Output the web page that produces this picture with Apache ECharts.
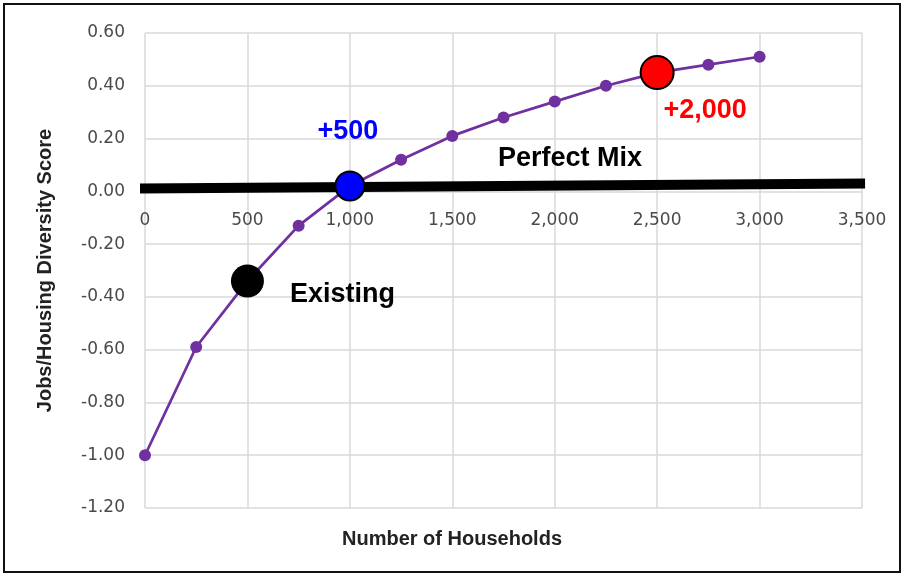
<!DOCTYPE html>
<html><head><meta charset="utf-8">
<script src="https://cdn.jsdelivr.net/npm/echarts@6/dist/echarts.min.js"></script>
<style>html,body{margin:0;padding:0;background:#fff}#c{width:904px;height:575px}</style>
</head><body><div id="c"></div>
<script>
// Data
const households = [0, 250, 500, 750, 1000, 1250, 1500, 1750, 2000, 2250, 2500, 2750, 3000];
const diversityScore = [-1.00, -0.59, -0.34, -0.13, 0.02, 0.12, 0.21, 0.28, 0.34, 0.40, 0.45, 0.48, 0.51];
const perfectMixLine = [[-40, 0.011], [3515, 0.030]];
const perfectMixLabelAt = [2075, 0.126];
const existingPoint = [500, -0.34];
const plus500Point = [1000, 0.02];
const plus2000Point = [2500, 0.45];
const xTicks = { min: 0, max: 3500, interval: 500 };
const yTicks = { min: -1.2, max: 0.6, interval: 0.2 };

const gridTop = 33, gridBottom = 67, chartH = 575;
const plotH = chartH - gridTop - gridBottom;
// move the x axis (with its labels) up to the y = 0 line
const xAxisOffset = -plotH * (0 - yTicks.min) / (yTicks.max - yTicks.min);

const chart = echarts.init(document.getElementById('c'));
const tickFont = { fontFamily: 'DejaVu Sans', fontSize: 17, color: '#4a4a4a' };
const annFont = { fontFamily: 'Liberation Sans', fontWeight: 'bold', fontSize: 27 };
const titleFont = { fontFamily: 'Liberation Sans', fontWeight: 'bold', fontSize: 20, color: '#222' };
chart.setOption({
  animation: false,
  backgroundColor: '#fff',
  title: {
    text: 'Number of Households', left: 'center', top: 524,
    textStyle: titleFont
  },
  grid: { left: 145, right: 42, top: gridTop, bottom: gridBottom },
  xAxis: {
    type: 'value', min: xTicks.min, max: xTicks.max, interval: xTicks.interval,
    position: 'bottom', offset: xAxisOffset,
    axisLine: { show: false, onZero: false },
    axisTick: { show: false },
    axisLabel: Object.assign({ margin: 21, formatter: v => v.toLocaleString('en-US') }, tickFont),
    splitLine: { show: true, lineStyle: { color: '#d9d9d9', width: 1.5 } }
  },
  yAxis: {
    type: 'value', min: yTicks.min, max: yTicks.max, interval: yTicks.interval,
    name: 'Jobs/Housing Diversity Score', nameLocation: 'middle', nameGap: 90, nameRotate: 90,
    nameTextStyle: titleFont,
    axisLine: { show: false, onZero: false },
    axisTick: { show: false },
    axisLabel: Object.assign({ margin: 20, formatter: v => v.toFixed(2) }, tickFont),
    splitLine: { show: true, lineStyle: { color: '#d9d9d9', width: 1.5 } }
  },
  graphic: [{
    type: 'rect', shape: { x: 4, y: 4, width: 896, height: 568 },
    style: { fill: 'none', stroke: '#111', lineWidth: 2 }, z: 100
  }],
  series: [
    {
      type: 'line', data: perfectMixLine, symbol: 'none', clip: false, z: 2,
      lineStyle: { color: '#000', width: 10, cap: 'butt' },
      markPoint: {
        symbol: 'circle', symbolSize: 1, itemStyle: { color: 'rgba(0,0,0,0)' },
        data: [{ coord: perfectMixLabelAt }],
        label: Object.assign({ show: true, position: 'inside', formatter: 'Perfect Mix', color: '#000' }, annFont)
      }
    },
    {
      type: 'line', data: households.map((x, i) => [x, diversityScore[i]]), z: 3,
      symbol: 'circle', symbolSize: 12,
      lineStyle: { color: '#7030A0', width: 2.75 }, itemStyle: { color: '#7030A0' }
    },
    {
      type: 'scatter', data: [existingPoint], symbolSize: 33, z: 5,
      itemStyle: { color: '#000', opacity: 1 },
      label: Object.assign({ show: true, position: 'inside', offset: [95, 13], formatter: 'Existing', color: '#000' }, annFont)
    },
    {
      type: 'scatter', data: [plus500Point], symbolSize: 29, z: 5,
      itemStyle: { color: '#0000ff', borderColor: '#000', borderWidth: 2, opacity: 1 },
      label: Object.assign({ show: true, position: 'inside', offset: [-2, -55], formatter: '+500', color: '#0000ff' }, annFont)
    },
    {
      type: 'scatter', data: [plus2000Point], symbolSize: 33, z: 5,
      itemStyle: { color: '#ff0000', borderColor: '#000', borderWidth: 2, opacity: 1 },
      label: Object.assign({ show: true, position: 'inside', offset: [48, 38], formatter: '+2,000', color: '#ff0000' }, annFont)
    }
  ]
});
</script></body></html>
